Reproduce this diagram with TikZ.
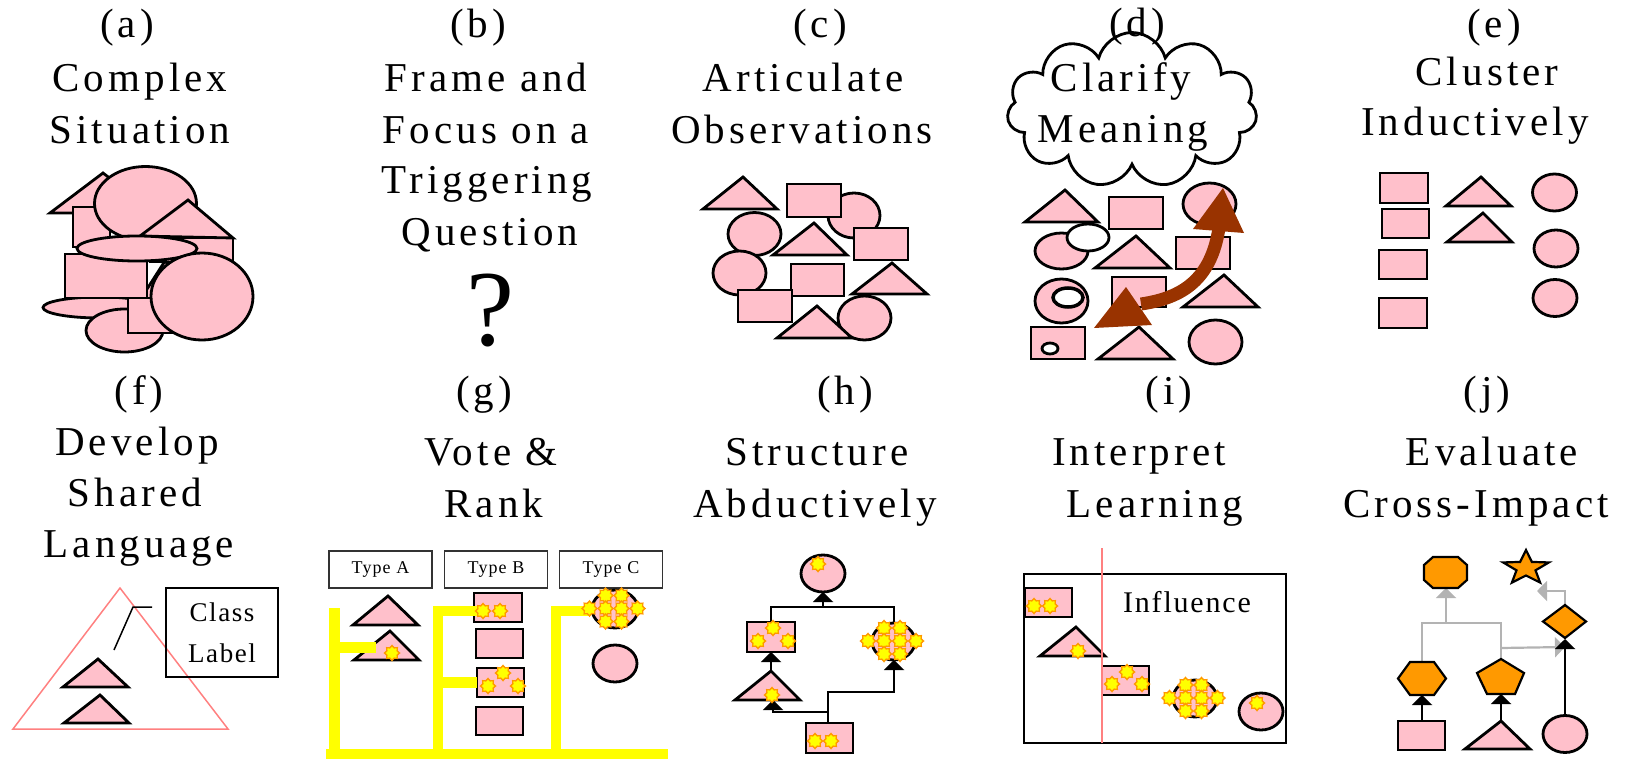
\documentclass[tikz,border=0pt]{standalone}
\usepackage{fontspec}
\setmainfont{Liberation Serif}
\newfontfamily\ttl[LetterSpace=10]{Liberation Serif}
\newfontfamily\sml[LetterSpace=6]{Liberation Serif}
\usetikzlibrary{shapes.symbols,arrows.meta}
\definecolor{pk}{HTML}{FFC0CB}
\definecolor{org}{HTML}{FF9900}
\definecolor{yel}{HTML}{FFFF00}
\definecolor{brn}{HTML}{993300}
\definecolor{lred}{HTML}{FF8080}
\definecolor{gry}{HTML}{B3B3B3}
\tikzset{
 pks/.style={fill=pk,draw=black,line width=2.8},
 wh/.style={fill=white,draw=black,line width=2.8},
 ors/.style={fill=org,draw=black,line width=2.2},
 ttlt/.style={font=\ttl\fontsize{41}{41}\selectfont,anchor=base,inner sep=0},
 spark/.pic={\filldraw[fill=yel,draw=org,line width=1.4] (0:7.5) \foreach \k in {1,...,15}{ -- (\k*22.5:{ifthenelse(mod(\k,2)==0,7.5,5.6)}) } -- cycle;},
 conn/.style={draw=black,line width=2.2},
 gconn/.style={draw=gry,line width=2.2},
 arr/.style={-{Triangle[length=10pt,width=20pt]}},
 ybar/.style={draw=yel,line width=10.5},
 typebox/.style={draw=black!80,line width=1.2,minimum width=103,minimum height=37,inner sep=0,font=\sml\fontsize{18}{18}\selectfont},
}
\newcommand\sgrid[2]{\foreach \ggx/\ggy in {-8/-13,8/-13,-24/0,-8/0,8/0,24/0,-8/13,8/13} \pic at ({#1+\ggx},{#2+\ggy}) {spark};}
\begin{document}
\begin{tikzpicture}[x=1pt,y=-1pt]
\useasboundingbox (0,0) rectangle (1625,760);
% ---------------- (a)
\node[ttlt] (la) at (127,38) {(a)};
\node[ttlt] (a1) at (140,92) {Complex};
\node[ttlt] (a2) at (140,143) {Situation};
\filldraw[pks] (50,213) -- (103,173) -- (155,213) -- cycle;
\filldraw[pks] (73,207) rectangle (110,247);
\filldraw[pks] (145.5,203.5) ellipse [x radius=51pt, y radius=37pt];
\filldraw[pks] (150,238) rectangle (233,262);
\filldraw[pks] (140,236) -- (188,200) -- (233,238) -- cycle;
\filldraw[pks] (140,300) -- (165,261) -- (200,300) -- cycle;
\filldraw[pks] (100,307.5) ellipse [x radius=57pt, y radius=10.5pt];
\filldraw[pks] (65,254) rectangle (147,298);
\filldraw[pks] (137,248.5) ellipse [x radius=60pt, y radius=12.5pt];
\filldraw[pks] (124.5,330.5) ellipse [x radius=38.5pt, y radius=21.5pt];
\filldraw[pks] (128,298) rectangle (173,333);
\filldraw[pks] (202,296.5) ellipse [x radius=51pt, y radius=43.5pt];
% ---------------- (b)
\node[ttlt] (lb) at (478,38) {(b)};
\node[ttlt] (b1) at (486,92) {Frame and};
\node[ttlt] (b2) at (486,143) {Focus on a};
\node[ttlt] (b3) at (487,193) {Triggering};
\node[ttlt] (b4) at (490,245) {Question};
\node[anchor=base,inner sep=0,font=\fontsize{108}{108}\selectfont] (bq) at (490,345) {?};
% ---------------- (c)
\node[ttlt] (lc) at (820,38) {(c)};
\node[ttlt] (c1) at (803,92) {Articulate};
\node[ttlt] (c2) at (802,143) {Observations};
\filldraw[pks] (703,209) -- (743,177) -- (777,209) -- cycle;
\filldraw[pks] (854,215.5) ellipse [x radius=26pt, y radius=22.5pt];
\filldraw[pks] (787,184) rectangle (841,217);
\filldraw[pks] (754.5,234) ellipse [x radius=26.5pt, y radius=21.5pt];
\filldraw[pks] (773,255) -- (814,223) -- (847,255) -- cycle;
\filldraw[pks] (854,228) rectangle (908,260);
\filldraw[pks] (739.5,273) ellipse [x radius=26.5pt, y radius=22pt];
\filldraw[pks] (791,264) rectangle (844,296);
\filldraw[pks] (852,294) -- (892,263) -- (927,294) -- cycle;
\filldraw[pks] (738,290) rectangle (792,322);
\filldraw[pks] (864.5,318) ellipse [x radius=26.5pt, y radius=22pt];
\filldraw[pks] (777,338) -- (817,306) -- (852,338) -- cycle;
% ---------------- (d)
\node[cloud,cloud puffs=11,aspect=1.6,draw,line width=2.8,minimum width=250,minimum height=155,inner sep=0] (cld) at (1132,110) {};
\node[ttlt] (ld) at (1137,37) {(d)};
\node[ttlt] (d1) at (1121,92) {Clarify};
\node[ttlt] (d2) at (1123,142) {Meaning};
\filldraw[pks] (1025,222) -- (1065,190) -- (1098,222) -- cycle;
\filldraw[pks] (1109,197) rectangle (1163,229);
\filldraw[pks] (1209.5,204) ellipse [x radius=26.5pt, y radius=21pt];
\filldraw[pks] (1061.5,251) ellipse [x radius=26.5pt, y radius=18pt];
\filldraw[wh] (1088,237.5) ellipse [x radius=21pt, y radius=13.5pt];
\filldraw[pks] (1095,268) -- (1136,236) -- (1170,268) -- cycle;
\filldraw[pks] (1176,237) rectangle (1230,269);
\filldraw[pks] (1061.5,301) ellipse [x radius=26.5pt, y radius=22pt];
\filldraw[wh,line width=3.5] (1068,297.5) ellipse [x radius=15pt, y radius=9.5pt];
\filldraw[pks] (1112,277) rectangle (1166,307);
\filldraw[pks] (1183,307) -- (1224,275) -- (1258,307) -- cycle;
\filldraw[pks] (1031,327) rectangle (1085,359);
\filldraw[wh] (1050,348.5) ellipse [x radius=8pt, y radius=5.5pt];
\filldraw[pks] (1098,359) -- (1139,327) -- (1173,359) -- cycle;
\filldraw[pks] (1215.5,342) ellipse [x radius=26.5pt, y radius=22pt];
\fill[brn] (1223,188) -- (1244,233) -- (1193,229) -- cycle;
\fill[brn] (1094,328) -- (1126,287) -- (1152,325) -- cycle;
\draw[brn,line width=13] (1219,228) .. controls (1211,280) and (1182,298) .. (1141,304);
% ---------------- (e)
\node[ttlt] (le) at (1494,38) {(e)};
\node[ttlt] (e1) at (1487,85) {Cluster};
\node[ttlt] (e2) at (1475,135) {Inductively};
\filldraw[pks] (1380,173) rectangle (1428,203);
\filldraw[pks] (1382,209) rectangle (1429,238);
\filldraw[pks] (1379,250) rectangle (1427,279);
\filldraw[pks] (1379,298) rectangle (1427,328);
\filldraw[pks] (1446,206) -- (1481,177) -- (1511,206) -- cycle;
\filldraw[pks] (1447,242) -- (1483,213) -- (1512,242) -- cycle;
\filldraw[pks] (1554.5,192.5) ellipse [x radius=22pt, y radius=18.5pt];
\filldraw[pks] (1556,248.5) ellipse [x radius=22pt, y radius=18.5pt];
\filldraw[pks] (1555,298) ellipse [x radius=22pt, y radius=18.5pt];
% ---------------- (f)
\node[ttlt] (lf) at (139,404) {(f)};
\node[ttlt] (f1) at (137,455) {Develop};
\node[ttlt] (f2) at (135,506) {Shared};
\node[ttlt] (f3) at (139,557) {Language};
\draw[lred,line width=1.5] (13,729) -- (120,588) -- (228,729) -- cycle;
\draw[black,line width=1.5] (114,650) -- (133,607) -- (152,607);
\node[draw,line width=1.5,minimum width=112,minimum height=89,inner sep=0,align=center,font=\sml\fontsize{27}{41}\selectfont] (cl) at (222,632.5) {Class\\Label};
\filldraw[pks] (63,687) -- (98,659) -- (128,687) -- cycle;
\filldraw[pks] (64,723) -- (100,695) -- (129,723) -- cycle;
% ---------------- (g)
\node[ttlt] (lg) at (484,404) {(g)};
\node[ttlt] (g1) at (491,465) {Vote \&};
\node[ttlt] (g2) at (494,517) {Rank};
\node[typebox] (ta) at (380.5,569.5) {Type A};
\node[typebox] (tb) at (496,569.5) {Type B};
\node[typebox] (tc) at (611,569.5) {Type C};
\filldraw[pks] (353,625) -- (388,596) -- (418,625) -- cycle;
\filldraw[pks] (354,660) -- (390,631) -- (419,660) -- cycle;
\filldraw[pks] (474,593) rectangle (522,622);
\filldraw[pks] (476,629) rectangle (523,658);
\filldraw[pks] (477,668) rectangle (524,697);
\filldraw[pks] (476,707) rectangle (523,735);
\filldraw[pks] (615,609) ellipse [x radius=23pt, y radius=19pt];
\filldraw[pks] (615,663.5) ellipse [x radius=22pt, y radius=18.5pt];
\draw[ybar] (326,754) -- (668,754);
\draw[ybar] (334.5,608) -- (334.5,754);
\draw[ybar] (334.5,647.5) -- (376,647.5);
\draw[ybar] (477,611) -- (438,611) -- (438,754);
\draw[ybar] (438,682.5) -- (477,682.5);
\draw[ybar] (590,611) -- (556,611) -- (556,754);
\pic at (392,653) {spark};
\pic at (483,611) {spark};
\pic at (500,611) {spark};
\pic at (503,673) {spark};
\pic at (488,686) {spark};
\pic at (518,686) {spark};
\sgrid{613.5}{608.5}
% ---------------- (h)
\node[ttlt] (lh) at (845,404) {(h)};
\node[ttlt] (h1) at (817,465) {Structure};
\node[ttlt] (h2) at (815,517) {Abductively};
\filldraw[pks] (823,573.5) ellipse [x radius=22pt, y radius=18.5pt];
\filldraw[pks] (747,622) rectangle (795,652);
\filldraw[pks] (735,700) -- (771,671) -- (800,700) -- cycle;
\filldraw[pks] (893.5,641.5) ellipse [x radius=21.5pt, y radius=18.5pt];
\filldraw[pks] (806,723) rectangle (853,753);
\coordinate (hc-s) at (823,592);
\coordinate (hj) at (823,607);
\coordinate (hr-n) at (771,622);
\coordinate (hr-s) at (771,652);
\coordinate (ht-n) at (771,671);
\coordinate (ht-s) at (773,700);
\coordinate (hs-n) at (894,623);
\coordinate (hs-s) at (894,660);
\coordinate (hb-n) at (828,723);
\coordinate (hm) at (828,692);
\coordinate (hk) at (828,712);
\draw[conn] (hr-n) |- (hj) -| (hs-n);
\draw[conn,arr] (hj) -- (hc-s);
\draw[conn,arr] (ht-n) -- (hr-s);
\draw[conn,arr] (hb-n) -- (hm) -| (hs-s);
\draw[conn,arr] (hk) -| (ht-s);
\pic at (818,564) {spark};
\pic at (773,628) {spark};
\pic at (758,641) {spark};
\pic at (788,641) {spark};
\pic at (772,695) {spark};
\sgrid{892}{641}
\pic at (815,741) {spark};
\pic at (831,741) {spark};
% ---------------- (i)
\node[ttlt] (li) at (1169,404) {(i)};
\node[ttlt] (i1) at (1139,465) {Interpret};
\node[ttlt] (i2) at (1155,517) {Learning};
\draw[line width=2] (1024,574) rectangle (1286,743);
\node[anchor=base,inner sep=0,font=\sml\fontsize{30}{30}\selectfont] (infl) at (1187,612) {Influence};
\filldraw[pks] (1025,588) rectangle (1072,617);
\filldraw[pks] (1040,656) -- (1076,627) -- (1105,656) -- cycle;
\filldraw[pks] (1102,666) rectangle (1149,695);
\filldraw[pks] (1195,698.5) ellipse [x radius=22pt, y radius=18.5pt];
\filldraw[pks] (1261,711.5) ellipse [x radius=22pt, y radius=18.5pt];
\draw[lred,line width=1.5] (1102,548) -- (1102,743);
\pic at (1034,606) {spark};
\pic at (1050,606) {spark};
\pic at (1078,651) {spark};
\pic at (1127,672) {spark};
\pic at (1112,684) {spark};
\pic at (1142,684) {spark};
\sgrid{1193.5}{698}
\pic at (1257,703) {spark};
% ---------------- (j)
\node[ttlt] (lj) at (1487,404) {(j)};
\node[ttlt] (j1) at (1492,465) {Evaluate};
\node[ttlt] (j2) at (1476,517) {Cross-Impact};
\coordinate (jo-s) at (1446,588);
\coordinate (jst) at (1537,591);
\coordinate (jd-n) at (1565,605);
\coordinate (jd-s) at (1565,639);
\coordinate (jh-n) at (1422,662);
\coordinate (jh-s) at (1422,695);
\coordinate (jp-n) at (1501,659);
\coordinate (jp-s) at (1501,694);
\coordinate (jr-n) at (1422,721);
\coordinate (jt-n) at (1501,721);
\coordinate (jc-n) at (1565,716);
\coordinate (jg) at (1446,623);
\coordinate (jq) at (1501,648);
\coordinate (jgt) at (1565,647);
\draw[gconn] (jh-n) |- (jg) -| (jp-n);
\draw[gconn,arr] (jg) -- (jo-s);
\draw[gconn,arr] (jq) -- (jgt);
\draw[gconn,arr] (jd-n) |- (jst);
\filldraw[ors] (1433,557) -- (1458,557) -- (1467,565) -- (1467,580) -- (1458,588) -- (1433,588) -- (1424,580) -- (1424,565) -- cycle;
\filldraw[ors] (1526,550) \foreach \k in {1,...,9} { -- ({1526+ifthenelse(mod(\k,2)==0,24,10)*cos(90+36*\k)}, {568-ifthenelse(mod(\k,2)==0,18,7.5)*sin(90+36*\k)}) } -- cycle;
\filldraw[ors] (1565,605) -- (1586,621.5) -- (1565,638) -- (1543,621.5) -- cycle;
\filldraw[ors] (1410,662) -- (1434,662) -- (1446,678.5) -- (1434,695) -- (1410,695) -- (1398,678.5) -- cycle;
\filldraw[ors] (1501,659) -- (1524,673) -- (1515,694) -- (1487,694) -- (1477,673) -- cycle;
\filldraw[pks] (1398,721) rectangle (1445,750);
\filldraw[pks] (1465,749) -- (1501,721) -- (1530,749) -- cycle;
\filldraw[pks] (1565,734) ellipse [x radius=22pt, y radius=18.5pt];
\draw[conn,arr] (jr-n) -- (jh-s);
\draw[conn,arr] (jt-n) -- (jp-s);
\draw[conn,arr] (jc-n) -- (jd-s);
\end{tikzpicture}
\end{document}
